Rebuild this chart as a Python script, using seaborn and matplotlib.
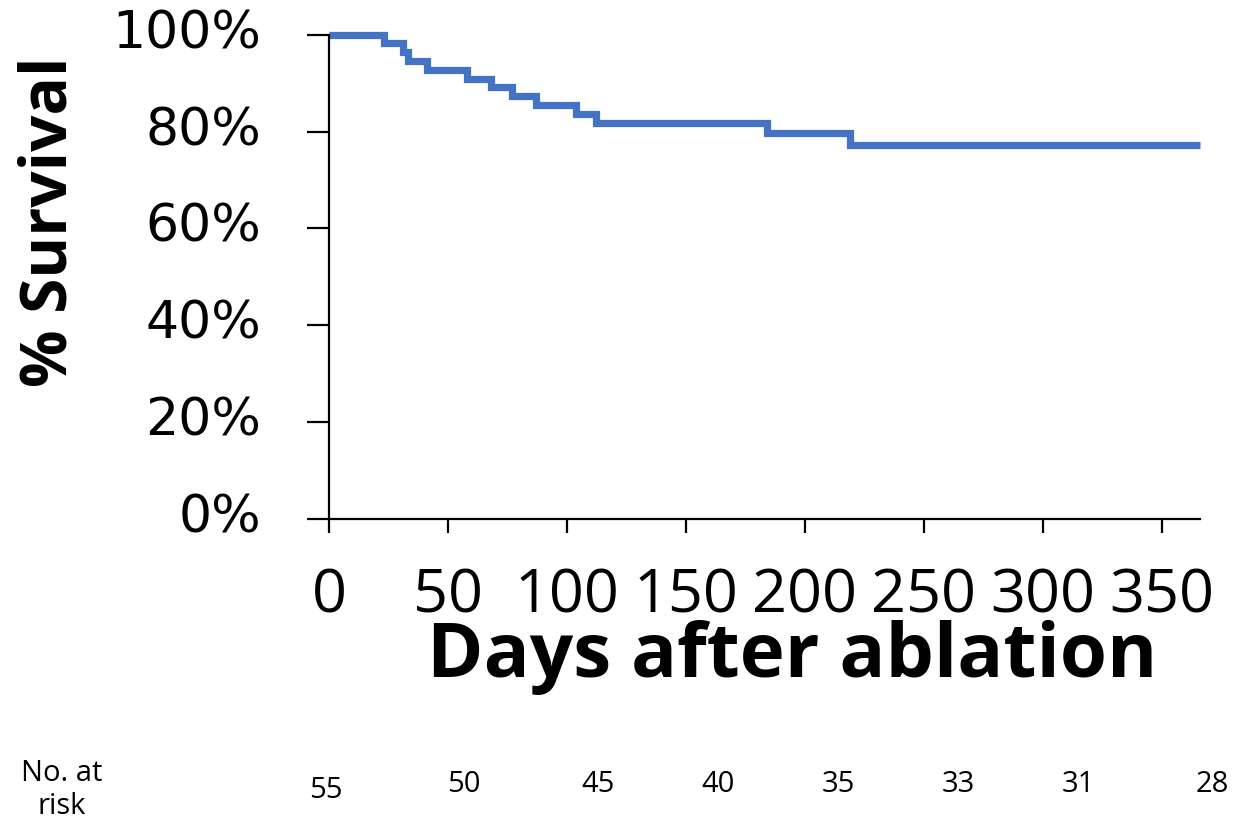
import numpy as np
import pandas as pd
import matplotlib
matplotlib.use('Agg')
import matplotlib.pyplot as plt
import matplotlib.transforms as mtransforms
import seaborn as sns

# Kaplan-Meier style steps (day, % survival)
days = [0, 23, 31, 33, 41, 58, 68, 77, 87, 104, 112, 184, 219, 366]
survival = [100, 98.2, 96.4, 94.5, 92.7, 90.9, 89.1, 87.3, 85.5, 83.6, 81.8, 79.6, 77.3, 77.3]

x_ticks = [0, 50, 100, 150, 200, 250, 300, 350]
y_ticks = [0, 20, 40, 60, 80, 100]

at_risk = ['55', '50', '45', '40', '35', '33', '31', '28']
# where the at-risk numbers sit (figure pixels, x centre / y centre)
risk_px = [(326, 790), (464, 784), (598, 784), (718, 784),
           (838, 784), (958, 784), (1078, 784), (1212, 784)]

W, H = 1253, 819

sns.set_theme(style='white')
plt.rcParams['font.family'] = ['Open Sans', 'DejaVu Sans']

df = pd.DataFrame({'day': days, 'surv': survival})

fig = plt.figure(figsize=(W / 100, H / 100), dpi=100)
ax = fig.add_axes([329 / W, 1 - 519 / H, (1200 - 329) / W, (519 - 34.7) / H])

sns.lineplot(data=df, x='day', y='surv', ax=ax, color='#4472C4', linewidth=5.2,
             drawstyle='steps-post', solid_capstyle='butt', solid_joinstyle='miter',
             estimator=None, sort=False, clip_on=False)

ax.set_xlim(0, 366)
ax.set_ylim(0, 100)
ax.set_xticks(x_ticks)
ax.set_yticks(y_ticks)
ax.set_xticklabels([str(v) for v in x_ticks])
ax.set_yticklabels([f'{v}%' for v in y_ticks])

for s in ['top', 'right']:
    ax.spines[s].set_visible(False)
for s in ['left', 'bottom']:
    ax.spines[s].set_color('black')
    ax.spines[s].set_linewidth(1.6)

ax.tick_params(axis='y', direction='out', length=16, width=1.6, color='black',
               pad=33, left=True)
ax.tick_params(axis='x', direction='out', length=10, width=1.6, color='black',
               pad=24, bottom=True)
shift_up = mtransforms.ScaledTranslation(0, 6 / 100, fig.dpi_scale_trans)
for lab in ax.get_yticklabels():
    lab.set_family('DejaVu Sans')
    lab.set_fontsize(37.5)
    lab.set_color('black')
    lab.set_transform(lab.get_transform() + shift_up)
for lab in ax.get_xticklabels():
    lab.set_family('Open Sans')
    lab.set_fontsize(44)
    lab.set_color('black')

ax.set_xlabel('')
ax.set_ylabel('')

fig.text(50 / W, 1 - 222 / H, '% Survival', rotation=90, ha='center', va='center',
         fontsize=46, fontweight='bold', color='black')
fig.text(792 / W, 1 - 677 / H, 'Days after ablation', ha='center', va='baseline',
         fontsize=55, fontweight='bold', color='black')

fig.text(62 / W, 1 - 790 / H, 'No. at\nrisk', ha='center', va='center',
         fontsize=21, color='black', linespacing=1.2)
for lab, (px, py) in zip(at_risk, risk_px):
    fig.text(px / W, 1 - py / H, lab, ha='center', va='center', fontsize=21, color='black')

fig.savefig('out.png', dpi=100, facecolor='white')
